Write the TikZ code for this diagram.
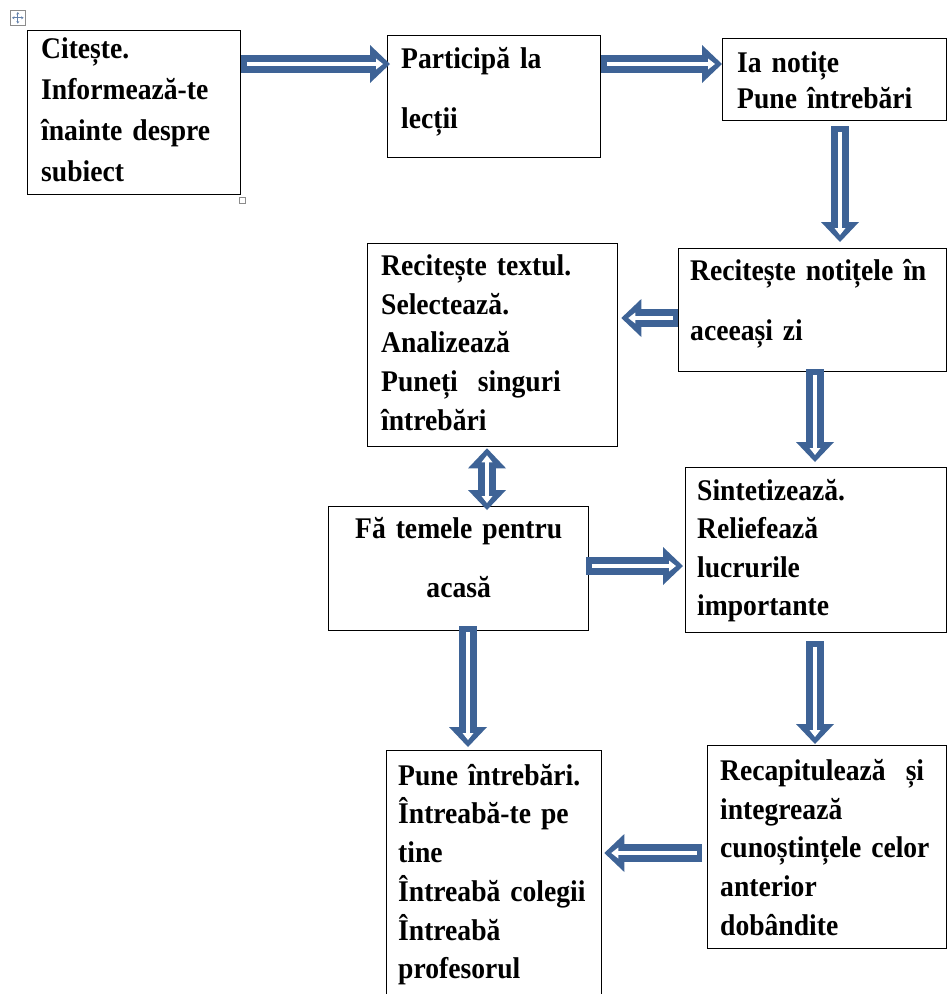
\documentclass[tikz,border=0pt]{standalone}
\usepackage{fontspec}
\setmainfont{Liberation Serif}[FakeStretch=0.92,WordSpace=0.75]
\usetikzlibrary{arrows.meta,calc}
\definecolor{arrowblue}{RGB}{62,99,150}
\begin{document}
\begin{tikzpicture}[x=1pt,y=-1pt,
  box/.style={draw=black, line width=1.3pt, rectangle, inner sep=0pt, anchor=north west},
  txt/.style={inner sep=0pt, anchor=north west, text width=420pt, align=left,
    font=\bfseries\fontsize{30}{#1}\selectfont, text height=22pt, text depth=0pt},
  ctxt/.style={inner sep=0pt, anchor=north, text width=420pt, align=center,
    font=\bfseries\fontsize{30}{#1}\selectfont, text height=22pt, text depth=0pt},
  hbout/.style={draw=arrowblue, line width=18pt,
    -{Triangle[width=38pt,length=20pt,line width=0pt]}},
  hbin/.style={draw=white, line width=4.5pt, shorten >=7pt, shorten <=5.5pt,
    -{Triangle[width=11pt,length=7pt,line width=0pt]}},
  dbout/.style={draw=arrowblue, line width=18pt,
    {Triangle[width=38pt,length=20pt,line width=0pt]}-{Triangle[width=38pt,length=20pt,line width=0pt]}},
  dbin/.style={draw=white, line width=4.5pt, shorten >=7pt, shorten <=7pt,
    {Triangle[width=11pt,length=7pt,line width=0pt]}-{Triangle[width=11pt,length=7pt,line width=0pt]}},
  handle/.style={draw=black!45, fill=white, line width=0.6pt, inner sep=0pt}
]
\useasboundingbox (0,0) rectangle (948,994);

% boxes
\node[box, minimum width=213pt, minimum height=164pt] (A) at (27,30) {};
\node[box, minimum width=213pt, minimum height=122pt] (B) at (387,35) {};
\node[box, minimum width=224pt, minimum height=82pt]  (C) at (722,38) {};
\node[box, minimum width=268pt, minimum height=123pt] (D) at (678,248) {};
\node[box, minimum width=250pt, minimum height=203pt] (E) at (367,243) {};
\node[box, minimum width=260pt, minimum height=124pt] (F) at (328,506) {};
\node[box, minimum width=261pt, minimum height=165pt] (G) at (685,467) {};
\node[box, minimum width=239pt, minimum height=203pt] (H) at (707,745) {};
\node[box, minimum width=215pt, minimum height=270pt] (I) at (386,750) {};

% texts
\node[txt=41] (tA) at ([xshift=14pt,yshift=-6pt]A.north west)
  {Citește.\\Informează-te\\înainte despre\\subiect};
\node[txt=60] (tB) at ([xshift=14pt,yshift=-11pt]B.north west)
  {Participă la\\lecții};
\node[txt=36] (tC) at ([xshift=15pt,yshift=-12pt]C.north west)
  {Ia notițe\\Pune întrebări};
\node[txt=60] (tD) at ([xshift=12pt,yshift=-10pt]D.north west)
  {Recitește notițele în\\aceeași zi};
\node[txt=38.8] (tE) at ([xshift=14pt,yshift=-10pt]E.north west)
  {Recitește textul.\\Selectează.\\Analizează\\Puneți~~singuri\\întrebări};
\node[ctxt=59] (tF) at ([yshift=-10pt]F.north)
  {Fă temele pentru\\acasă};
\node[txt=38.5] (tG) at ([xshift=12pt,yshift=-11pt]G.north west)
  {Sintetizează.\\Reliefează\\lucrurile\\importante};
\node[txt=38.8] (tH) at ([xshift=13pt,yshift=-13pt]H.north west)
  {Recapitulează~~și\\integrează\\cunoștințele celor\\anterior\\dobândite};
\node[txt=38.7] (tI) at ([xshift=12pt,yshift=-13pt]I.north west)
  {Pune întrebări.\\Întreabă-te pe\\tine\\Întreabă colegii\\Întreabă\\profesorul};

% arrow end points
\coordinate (a1s) at ([yshift=-34pt]A.north east);
\path (a1s -| B.west) ++(3pt,0pt) coordinate (a1e);
\coordinate (a2s) at ([yshift=-29pt]B.north east);
\coordinate (a2e) at (a2s -| C.west);
\path ([xshift=118pt]C.south west) ++(0pt,-5pt) coordinate (a3s);
\path (a3s |- D.north) ++(0pt,6pt) coordinate (a3e);
\coordinate (a4s) at ([yshift=-70pt]D.north west);
\path (a4s -| E.east) ++(3pt,0pt) coordinate (a4e);
\path ([xshift=137pt]D.south west) ++(0pt,3pt) coordinate (a5s);
\path (a5s |- G.north) ++(0pt,5pt) coordinate (a5e);
\path ([xshift=120pt]E.south west) ++(0pt,-1pt) coordinate (a6s);
\path (a6s |- F.north) ++(0pt,-4pt) coordinate (a6e);
\path ([yshift=-60pt]F.north east) ++(-3pt,0pt) coordinate (a7s);
\path (a7s -| G.west) ++(-2pt,0pt) coordinate (a7e);
\path ([xshift=140pt]F.south west) ++(0pt,5pt) coordinate (a8s);
\path (a8s |- I.north) ++(0pt,3pt) coordinate (a8e);
\path ([xshift=130pt]G.south west) ++(0pt,-8pt) coordinate (a9s);
\path (a9s |- H.north) ++(0pt,1pt) coordinate (a9e);
\path ([yshift=-108pt]H.north west) ++(-5pt,0pt) coordinate (a10s);
\path (a10s -| I.east) ++(2pt,0pt) coordinate (a10e);

% hollow block arrows
\foreach \k in {1,2,3,4,5,7,8,9,10}{
  \draw[hbout] (a\k s) -- (a\k e);
  \draw[hbin] (a\k s) -- (a\k e);
}
\draw[dbout] (a6s) -- (a6e);
\draw[dbin] (a6s) -- (a6e);

% editor handles
\node[handle, minimum size=15pt, anchor=north west] (mv) at (10,10) {};
\draw[arrowblue!80, line width=0.8pt, -{Stealth[length=2.5pt,width=3pt]}] (mv.center) -- ([yshift=-2pt]mv.north);
\draw[arrowblue!80, line width=0.8pt, -{Stealth[length=2.5pt,width=3pt]}] (mv.center) -- ([yshift=2pt]mv.south);
\draw[arrowblue!80, line width=0.8pt, -{Stealth[length=2.5pt,width=3pt]}] (mv.center) -- ([xshift=2pt]mv.west);
\draw[arrowblue!80, line width=0.8pt, -{Stealth[length=2.5pt,width=3pt]}] (mv.center) -- ([xshift=-2pt]mv.east);
\node[handle, minimum size=6pt, anchor=north west] (hd) at ([xshift=-2pt,yshift=-2pt]A.south east) {};
\end{tikzpicture}
\end{document}
